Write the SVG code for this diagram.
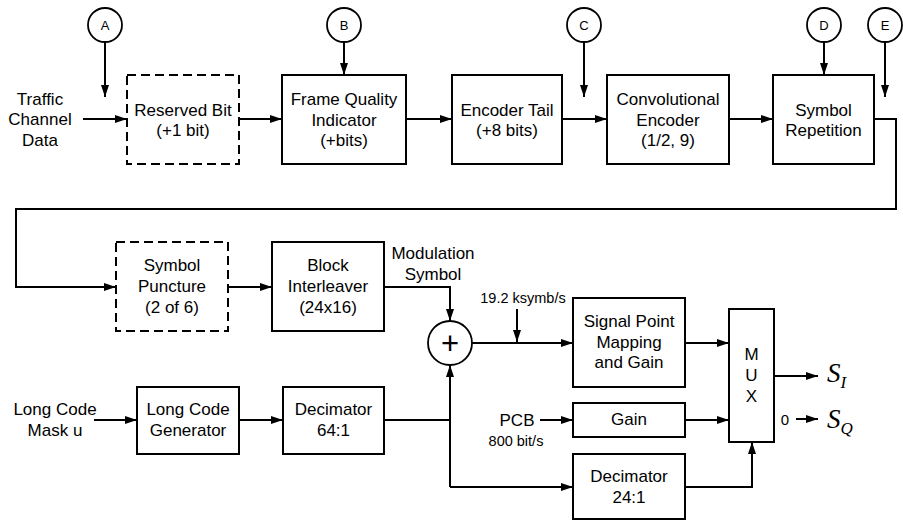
<svg xmlns="http://www.w3.org/2000/svg" width="903" height="521" viewBox="0 0 903 521">
<style>
.box{fill:#fff;stroke:#000;stroke-width:2}
.dash{fill:#fff;stroke:#000;stroke-width:2;stroke-dasharray:9,5}
.circ{fill:#fff;stroke:#000;stroke-width:1.8}
.ln{fill:none;stroke:#000;stroke-width:2}
.t{font-family:"Liberation Sans",Arial,sans-serif;font-size:17px;text-anchor:middle;fill:#000}
.s{font-family:"Liberation Sans",Arial,sans-serif;font-size:14.5px;text-anchor:middle;fill:#000}
.c{font-family:"Liberation Sans",Arial,sans-serif;font-size:13px;text-anchor:middle;fill:#000}
.m{font-family:"Liberation Serif","Times New Roman",serif;font-style:italic;fill:#000}
</style>
<defs>
<marker id="ah" markerUnits="userSpaceOnUse" markerWidth="12" markerHeight="8" refX="12" refY="4" orient="auto">
<path d="M0,0 L12,4 L0,8 z" fill="#000"/>
</marker>
</defs>
<g id="connectors">
<path class="ln" d="M105,42 V97" marker-end="url(#ah)"/>
<path class="ln" d="M344,42 V75" marker-end="url(#ah)"/>
<path class="ln" d="M584,42 V97" marker-end="url(#ah)"/>
<path class="ln" d="M824,42 V75" marker-end="url(#ah)"/>
<path class="ln" d="M885,42 V97" marker-end="url(#ah)"/>
<path class="ln" d="M83,119 H127" marker-end="url(#ah)"/>
<path class="ln" d="M239,119 H282" marker-end="url(#ah)"/>
<path class="ln" d="M406,119 H452" marker-end="url(#ah)"/>
<path class="ln" d="M562,119 H607" marker-end="url(#ah)"/>
<path class="ln" d="M729,119 H773" marker-end="url(#ah)"/>
<path class="ln" d="M874,119 H896 V209 H16 V287 H116" marker-end="url(#ah)"/>
<path class="ln" d="M228,287 H272" marker-end="url(#ah)"/>
<path class="ln" d="M384,287 H450 V321" marker-end="url(#ah)"/>
<path class="ln" d="M472,343 H573" marker-end="url(#ah)"/>
<path class="ln" d="M517,309 V342" marker-end="url(#ah)"/>
<path class="ln" d="M94,420 H137" marker-end="url(#ah)"/>
<path class="ln" d="M239,420 H283" marker-end="url(#ah)"/>
<path class="ln" d="M384,420 H450"/>
<path class="ln" d="M450,487 V365" marker-end="url(#ah)"/>
<path class="ln" d="M450,487 H573" marker-end="url(#ah)"/>
<path class="ln" d="M540,420 H573" marker-end="url(#ah)"/>
<path class="ln" d="M685,343 H729" marker-end="url(#ah)"/>
<path class="ln" d="M685,420 H729" marker-end="url(#ah)"/>
<path class="ln" d="M685,487 H752 V442" marker-end="url(#ah)"/>
<path class="ln" d="M774,376 H818" marker-end="url(#ah)"/>
<path class="ln" d="M796,419 H818" marker-end="url(#ah)"/>
</g>
<g id="A"><circle class="circ" cx="105" cy="25" r="17"/><text class="c" x="105" y="29.5">A</text></g>
<g id="B"><circle class="circ" cx="344" cy="25" r="17"/><text class="c" x="344" y="29.5">B</text></g>
<g id="C"><circle class="circ" cx="584" cy="25" r="17"/><text class="c" x="584" y="29.5">C</text></g>
<g id="D"><circle class="circ" cx="824" cy="25" r="17"/><text class="c" x="824" y="29.5">D</text></g>
<g id="E"><circle class="circ" cx="885" cy="25" r="17"/><text class="c" x="885" y="29.5">E</text></g>
<g id="traffic"><text class="t" x="40" y="104.5">Traffic</text><text class="t" x="40" y="125">Channel</text><text class="t" x="40" y="145.5">Data</text></g>
<g id="reserved"><rect class="dash" x="127" y="75" width="112" height="89"/><text class="t" x="183" y="115.5">Reserved Bit</text><text class="t" x="183" y="136">(+1 bit)</text></g>
<g id="fqi"><rect class="box" x="282" y="75" width="124" height="89"/><text class="t" x="344" y="105">Frame Quality</text><text class="t" x="344" y="125.5">Indicator</text><text class="t" x="344" y="146">(+bits)</text></g>
<g id="tail"><rect class="box" x="452" y="75" width="110" height="89"/><text class="t" x="507" y="115.5">Encoder Tail</text><text class="t" x="507" y="136">(+8 bits)</text></g>
<g id="conv"><rect class="box" x="607" y="75" width="122" height="89"/><text class="t" x="668" y="105">Convolutional</text><text class="t" x="668" y="125.5">Encoder</text><text class="t" x="668" y="146">(1/2, 9)</text></g>
<g id="rep"><rect class="box" x="773" y="75" width="101" height="89"/><text class="t" x="823.5" y="115.5">Symbol</text><text class="t" x="823.5" y="136">Repetition</text></g>
<g id="puncture"><rect class="dash" x="116" y="242" width="112" height="89"/><text class="t" x="172" y="271">Symbol</text><text class="t" x="172" y="292">Puncture</text><text class="t" x="172" y="313">(2 of 6)</text></g>
<g id="interleaver"><rect class="box" x="272" y="242" width="112" height="89"/><text class="t" x="328" y="271">Block</text><text class="t" x="328" y="292">Interleaver</text><text class="t" x="328" y="313">(24x16)</text></g>
<g id="modsym"><text class="t" x="433" y="259">Modulation</text><text class="t" x="433" y="280">Symbol</text></g>
<g id="sum"><circle class="circ" cx="450" cy="343" r="22"/><text x="450" y="354" style="font-family:'Liberation Sans',Arial,sans-serif;font-size:31px;text-anchor:middle">+</text></g>
<g id="rate"><text class="s" x="523" y="303">19.2 ksymb/s</text></g>
<g id="spm"><rect class="box" x="573" y="298" width="112" height="89"/><text class="t" x="629" y="327">Signal Point</text><text class="t" x="629" y="348">Mapping</text><text class="t" x="629" y="368">and Gain</text></g>
<g id="mux"><rect class="box" x="729" y="309" width="45" height="133"/><text class="t" x="751.5" y="360">M</text><text class="t" x="751.5" y="381">U</text><text class="t" x="751.5" y="402">X</text></g>
<g id="SI"><text class="m" x="827" y="382" font-size="27">S<tspan font-size="17" dy="6">I</tspan></text></g>
<g id="SQ"><text class="s" x="785" y="424.5" style="font-size:15px">0</text><text class="m" x="827" y="428" font-size="27">S<tspan font-size="17" dy="6">Q</tspan></text></g>
<g id="pcb"><text class="t" x="517" y="426">PCB</text><text class="s" x="516" y="446">800 bit/s</text></g>
<g id="gain"><rect class="box" x="573" y="403" width="112" height="34"/><text class="t" x="629" y="425">Gain</text></g>
<g id="mask"><text class="t" x="55" y="415">Long Code</text><text class="t" x="55" y="436">Mask u</text></g>
<g id="lcg"><rect class="box" x="137" y="387" width="102" height="67"/><text class="t" x="188" y="415">Long Code</text><text class="t" x="188" y="436">Generator</text></g>
<g id="dec64"><rect class="box" x="283" y="387" width="101" height="67"/><text class="t" x="333.5" y="415">Decimator</text><text class="t" x="333.5" y="436">64:1</text></g>
<g id="dec24"><rect class="box" x="573" y="454" width="112" height="65"/><text class="t" x="629" y="482">Decimator</text><text class="t" x="629" y="503">24:1</text></g>
</svg>
